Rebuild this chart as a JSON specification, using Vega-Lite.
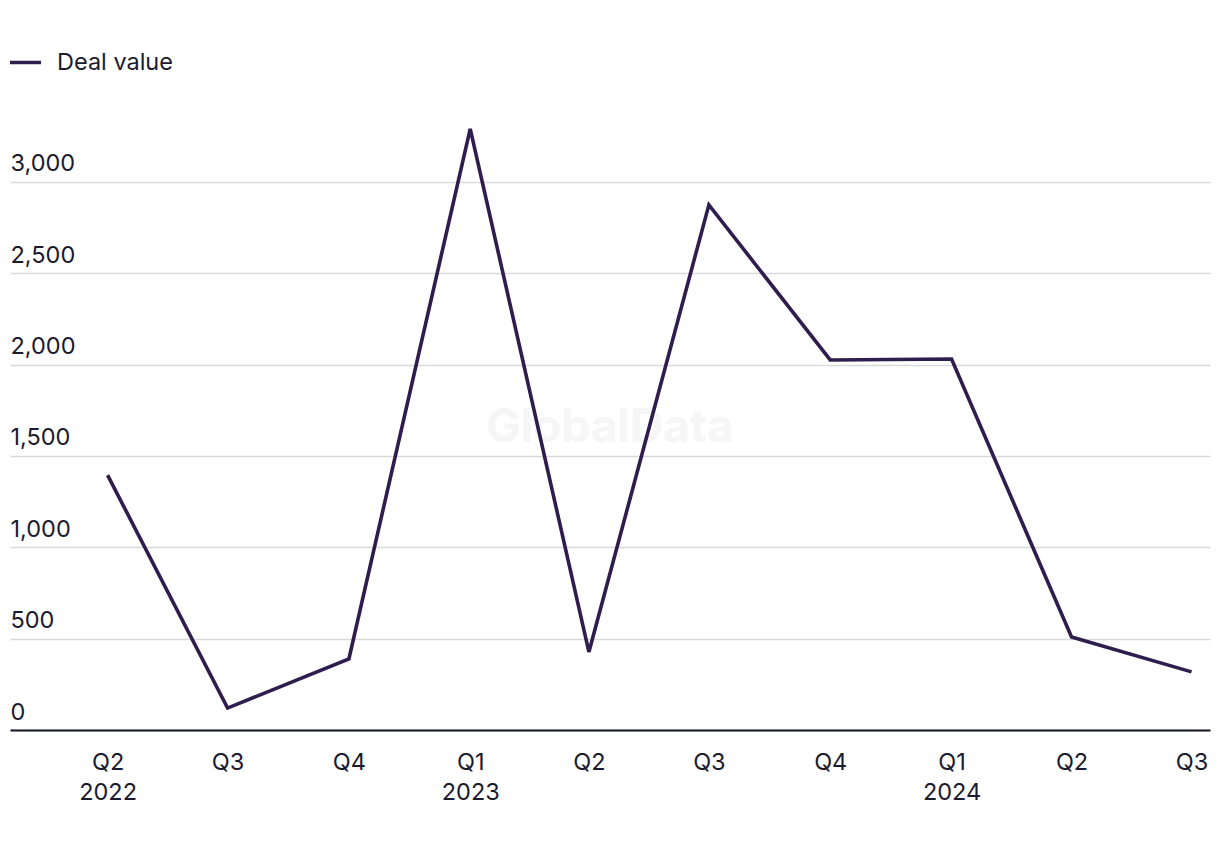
{
  "$schema": "https://vega.github.io/schema/vega-lite/v6.json",
  "autosize": {"type": "none"},
  "width": 1200,
  "height": 603,
  "padding": {"left": 10, "top": 127, "right": 10, "bottom": 120},
  "background": "white",
  "config": {
    "view": {"stroke": null},
    "font": "Inter",
    "axis": {"labelFont": "Inter", "labelColor": "#1b1b2f", "labelFontSize": 23.5, "titleFont": "Inter"},
    "legend": {"labelFont": "Inter"}
  },
  "layer": [
    {
      "data": {"values": [{"wm": "GlobalData"}]},
      "mark": {"type": "text", "font": "Inter", "fontSize": 46, "fontWeight": "bold", "color": "#f6f6f6"},
      "encoding": {
        "x": {"datum": {"year": 2023, "month": 4, "date": 17, "utc": true}, "type": "temporal"},
        "y": {"datum": 1653, "type": "quantitative"},
        "text": {"field": "wm"}
      }
    },
    {
      "data": {
        "values": [
          {"date": "2022-04-01", "value": 1395, "series": "Deal value"},
          {"date": "2022-07-01", "value": 120, "series": "Deal value"},
          {"date": "2022-10-01", "value": 389, "series": "Deal value"},
          {"date": "2023-01-01", "value": 3290, "series": "Deal value"},
          {"date": "2023-04-01", "value": 427, "series": "Deal value"},
          {"date": "2023-07-01", "value": 2874, "series": "Deal value"},
          {"date": "2023-10-01", "value": 2025, "series": "Deal value"},
          {"date": "2024-01-01", "value": 2030, "series": "Deal value"},
          {"date": "2024-04-01", "value": 509, "series": "Deal value"},
          {"date": "2024-07-01", "value": 318, "series": "Deal value"}
        ]
      },
      "mark": {"type": "line", "strokeWidth": 3.6, "strokeJoin": "miter"},
      "encoding": {
        "x": {
          "field": "date",
          "type": "temporal",
          "scale": {
            "type": "utc",
            "domain": [
              {"year": 2022, "month": 1, "date": 17, "utc": true},
              {"year": 2024, "month": 7, "date": 15, "utc": true}
            ]
          },
          "axis": {
            "title": null,
            "values": [
              {"year": 2022, "month": 4, "date": 1, "utc": true},
              {"year": 2022, "month": 7, "date": 1, "utc": true},
              {"year": 2022, "month": 10, "date": 1, "utc": true},
              {"year": 2023, "month": 1, "date": 1, "utc": true},
              {"year": 2023, "month": 4, "date": 1, "utc": true},
              {"year": 2023, "month": 7, "date": 1, "utc": true},
              {"year": 2023, "month": 10, "date": 1, "utc": true},
              {"year": 2024, "month": 1, "date": 1, "utc": true},
              {"year": 2024, "month": 4, "date": 1, "utc": true},
              {"year": 2024, "month": 7, "date": 1, "utc": true}
            ],
            "domain": true,
            "domainColor": "#15152a",
            "domainWidth": 2,
            "ticks": false,
            "grid": false,
            "labelAngle": 0,
            "labelAlign": "center",
            "labelPadding": 20,
            "labelBaseline": "top",
            "labelLineHeight": 30,
            "labelFlush": false,
            "labelOverlap": false,
            "labelExpr": "(utcquarter(datum.value) == 1 || (utcyear(datum.value) == 2022 && utcquarter(datum.value) == 2)) ? ['Q' + utcquarter(datum.value), '' + utcyear(datum.value)] : 'Q' + utcquarter(datum.value)"
          }
        },
        "y": {
          "field": "value",
          "type": "quantitative",
          "scale": {"domain": [0, 3300], "nice": false},
          "axis": {
            "title": null,
            "values": [0, 500, 1000, 1500, 2000, 2500, 3000],
            "format": ",.0f",
            "domain": false,
            "ticks": false,
            "grid": true,
            "gridColor": "#d9d9d9",
            "gridWidth": 1.5,
            "labelAlign": "left",
            "labelBaseline": "alphabetic",
            "labelPadding": 0,
            "labelOffset": -11,
            "zindex": 0
          }
        },
        "color": {
          "field": "series",
          "type": "nominal",
          "scale": {"range": ["#2f1d4e"]},
          "legend": {
            "title": null,
            "orient": "none",
            "legendX": -2,
            "legendY": -82,
            "symbolType": "stroke",
            "symbolSize": 961,
            "symbolStrokeWidth": 3.5,
            "labelFontSize": 23.5,
            "labelColor": "#1b1b2f",
            "labelOffset": 14,
            "padding": 0
          }
        }
      }
    }
  ]
}
